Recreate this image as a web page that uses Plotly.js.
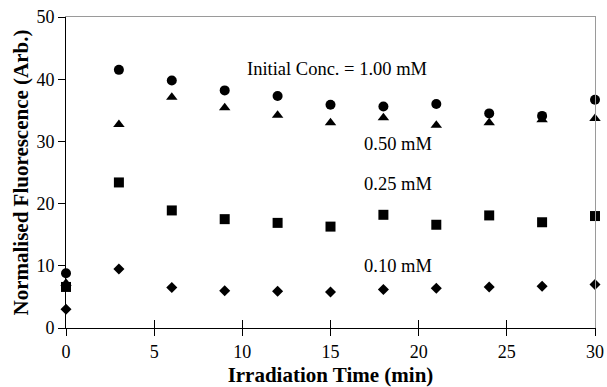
<!DOCTYPE html>
<html>
<head>
<meta charset="utf-8">
<script src="https://cdn.plot.ly/plotly-3.0.1.min.js"></script>
<style>html,body{margin:0;padding:0;background:#fff}#chart{width:607px;height:387px}</style>
</head>
<body>
<div id="chart"></div>
<script>
const time = [0, 3, 6, 9, 12, 15, 18, 21, 24, 27, 30];
const conc100 = [8.8, 41.5, 39.8, 38.2, 37.3, 35.9, 35.6, 36.0, 34.5, 34.1, 36.7];
const conc050 = [7.2, 32.7, 37.1, 35.4, 34.2, 33.0, 33.8, 32.6, 33.0, 33.5, 33.7];
const conc025 = [6.6, 23.4, 18.9, 17.5, 16.9, 16.3, 18.2, 16.6, 18.1, 17.0, 18.0];
const conc010 = [3.0, 9.5, 6.5, 6.0, 5.9, 5.8, 6.2, 6.4, 6.6, 6.7, 7.0];
const seriesNames = ['1.00 mM', '0.50 mM', '0.25 mM', '0.10 mM'];
const labels = ['Initial Conc. = 1.00 mM', '0.50 mM', '0.25 mM', '0.10 mM'];
const labelX = [15.35, 18.8, 18.8, 18.8];
const labelY = [41.6, 29.6, 23.2, 9.9];
const xTicks = [0, 5, 10, 15, 20, 25, 30];
const yTicks = [0, 10, 20, 30, 40, 50];

const serif = 'Liberation Serif, Times New Roman, serif';
const symbols = ['circle', 'triangle-up', 'square', 'diamond'];
const sizes = [10, 10, 10, 8.5];
const allY = [conc100, conc050, conc025, conc010];

const traces = allY.map((ys, i) => ({
  x: time, y: ys, type: 'scatter', mode: 'markers', name: seriesNames[i],
  cliponaxis: false,
  marker: {symbol: symbols[i], size: sizes[i], color: '#000', line: {width: 0}}
}));

const annotations = labels.map((t, i) => ({
  x: labelX[i], y: labelY[i], xref: 'x', yref: 'y', text: t, showarrow: false,
  font: {family: serif, size: 18.5, color: '#000'}, xanchor: 'center', yanchor: 'middle'
}));

const layout = {
  width: 607, height: 387,
  margin: {l: 66, r: 12, t: 17, b: 59},
  paper_bgcolor: '#fff', plot_bgcolor: '#fff',
  showlegend: false,
  font: {family: serif, size: 18, color: '#000'},
  xaxis: {
    range: [0, 30], tickvals: xTicks, ticktext: xTicks.map(String),
    ticks: 'outside', ticklen: 7, tickwidth: 1, tickcolor: '#000',
    showline: true, linecolor: '#000', linewidth: 1, zeroline: false, showgrid: false,
    tickfont: {family: serif, size: 18, color: '#000'},
    title: {text: '<b>Irradiation Time (min)</b>', font: {family: serif, size: 21, color: '#000'}, standoff: 6}
  },
  xaxis3: {
    range: [0, 30], tickvals: xTicks, overlaying: 'x', anchor: 'y', side: 'bottom',
    ticks: 'inside', ticklen: 8, tickwidth: 1, tickcolor: '#000',
    showticklabels: false, showline: false, zeroline: false, showgrid: false
  },
  xaxis2: {
    range: [0, 30], overlaying: 'x', anchor: 'y', side: 'top',
    showline: true, linecolor: '#9a9a9a', linewidth: 1, ticks: '', showticklabels: false,
    zeroline: false, showgrid: false
  },
  yaxis: {
    range: [0, 50], tickvals: yTicks, ticktext: yTicks.map(String),
    ticks: 'outside', ticklen: 7, tickwidth: 1, tickcolor: '#000',
    showline: true, linecolor: '#000', linewidth: 1, zeroline: false, showgrid: false,
    tickfont: {family: serif, size: 18, color: '#000'},
    title: {text: '<b>Normalised Fluorescence (Arb.)</b>', font: {family: serif, size: 21, color: '#000'}, standoff: 2}
  },
  yaxis2: {
    range: [0, 50], overlaying: 'y', anchor: 'x', side: 'right',
    showline: true, linecolor: '#9a9a9a', linewidth: 1, ticks: '', showticklabels: false,
    zeroline: false, showgrid: false
  },
  annotations: annotations
};

// empty traces so the overlay axes (frame lines and crossing ticks) are drawn
traces.push({x: [], y: [], xaxis: 'x2', yaxis: 'y2', type: 'scatter', mode: 'markers', hoverinfo: 'skip', showlegend: false});
traces.push({x: [], y: [], xaxis: 'x3', yaxis: 'y', type: 'scatter', mode: 'markers', hoverinfo: 'skip', showlegend: false});

Plotly.newPlot('chart', traces, layout, {staticPlot: true, displayModeBar: false});
</script>
</body>
</html>
